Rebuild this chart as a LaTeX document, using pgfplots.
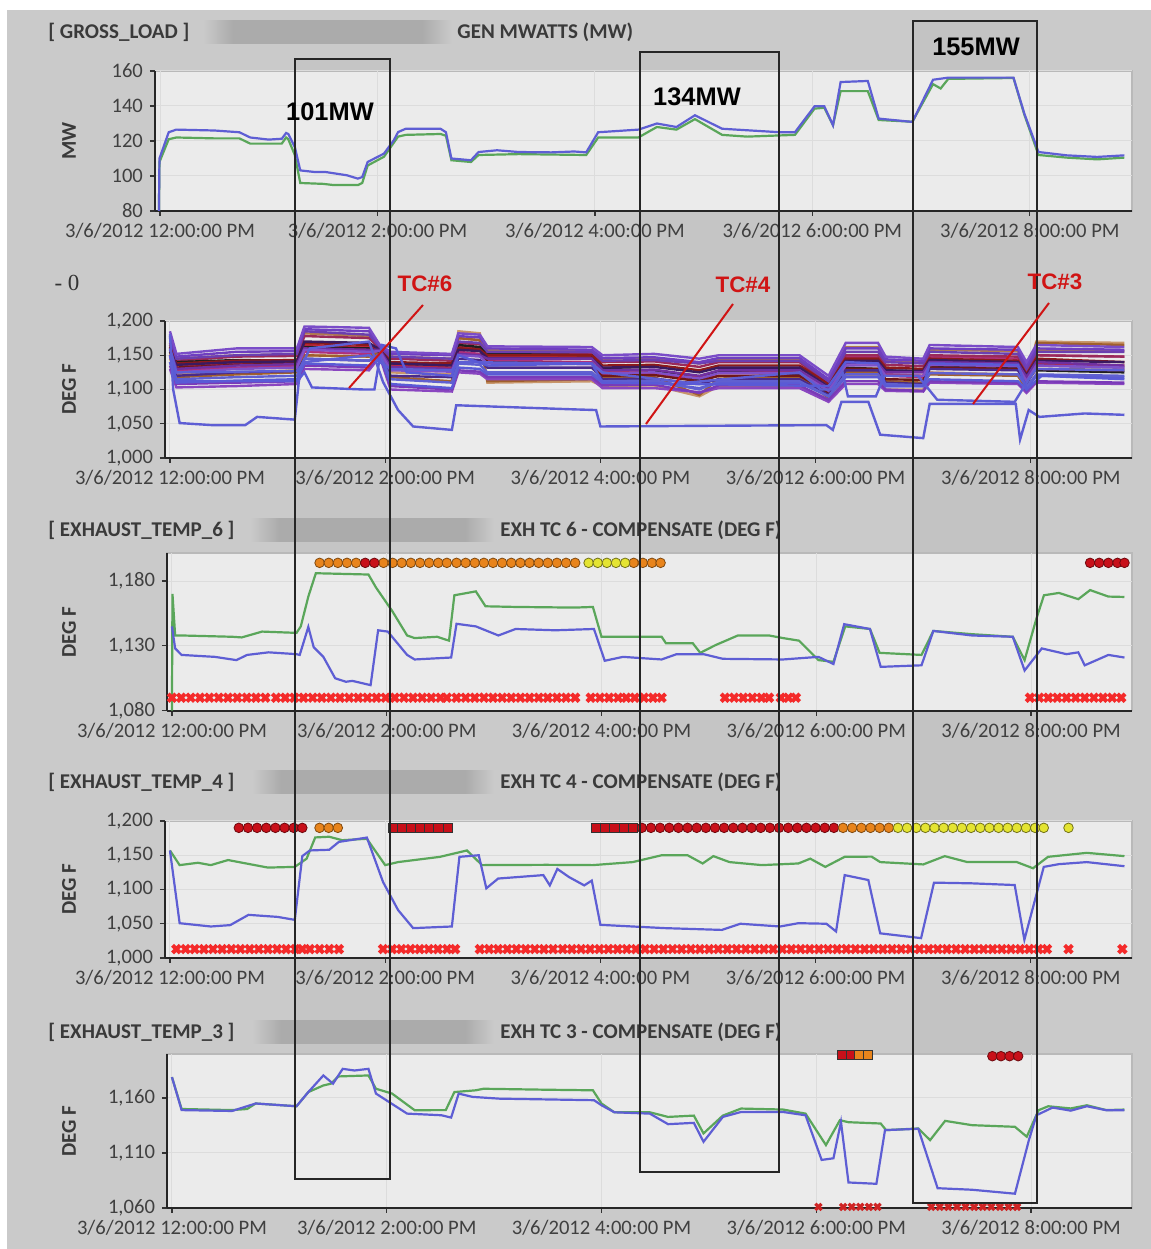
\documentclass[border=0pt]{standalone}
\usepackage{fontspec}
\setmainfont{Carlito}
\newfontfamily\arialf{Liberation Sans}
\newfontfamily\serf{Liberation Serif}
\usepackage{pgfplots}
\usepackage{pgfplotstable}
\pgfplotsset{compat=1.18}

\definecolor{bgray}{HTML}{CACACA}
\definecolor{barc}{HTML}{ABABAB}
\definecolor{pbg}{HTML}{EBEBEB}
\definecolor{gridc}{HTML}{DCDCDC}
\definecolor{lgreen}{HTML}{5AA65A}
\definecolor{lblue}{HTML}{5E5ED4}
\definecolor{ttl}{HTML}{3A3A3A}
\definecolor{mkred}{HTML}{C8101A}
\definecolor{mkorange}{HTML}{E8841C}
\definecolor{mkyellow}{HTML}{E4E432}
\definecolor{xred}{HTML}{F42A2A}
\definecolor{tcred}{HTML}{D01414}
\definecolor{cA}{HTML}{7A4CC8}
\definecolor{cB}{HTML}{6B3FB0}
\definecolor{cC}{HTML}{8B1A1A}
\definecolor{cD}{HTML}{7030A0}
\definecolor{cE}{HTML}{202020}
\definecolor{cF}{HTML}{A0602D}
\definecolor{cG}{HTML}{5A5AD6}
\definecolor{cH}{HTML}{8A46C0}
\definecolor{cI}{HTML}{B0307A}
\definecolor{cJ}{HTML}{C8966A}
\definecolor{cK}{HTML}{4A2A8A}
\definecolor{cL}{HTML}{C0283A}
\definecolor{dA}{HTML}{6F3FC0}
\definecolor{dB}{HTML}{9A2A5A}
\definecolor{dC}{HTML}{3A1A60}
\definecolor{dD}{HTML}{8050C8}
\definecolor{dE}{HTML}{6060D0}
\definecolor{dF}{HTML}{7A3AB8}
\definecolor{dG}{HTML}{701818}
\definecolor{dH}{HTML}{B07A50}

\pgfdeclarehorizontalshading{blurbar}{100bp}{color(0bp)=(bgray); color(25bp)=(bgray); color(31bp)=(barc); color(69bp)=(barc); color(75bp)=(bgray); color(100bp)=(bgray)}

\pgfplotstableread{
t L1 L2 L3 L4 L5 L6 L7 L8 L9 L10 L11 L12
0    1185 1175 1165 1160 1155 1150 1140 1130 1150 1145 1150 1155
0.06 1152 1145 1138 1130 1140 1118 1110 1103 1128 1122 1120 1135
0.62 1160 1150 1142 1135 1143 1122 1113 1105 1132 1125 1125 1138
1.18 1160 1152 1143 1137 1142 1125 1115 1108 1135 1128 1127 1140
1.25 1192 1185 1168 1160 1162 1150 1138 1130 1155 1150 1145 1165
1.85 1190 1180 1165 1158 1160 1148 1135 1128 1152 1148 1142 1162
1.95 1165 1162 1160 1158 1155 1155 1150 1148 1160 1158 1152 1160
2.05 1155 1148 1140 1133 1138 1118 1108 1100 1130 1125 1120 1135
2.62 1152 1145 1138 1130 1136 1112 1102 1097 1128 1122 1118 1132
2.68 1182 1170 1160 1152 1165 1175 1132 1125 1155 1185 1145 1162
2.88 1180 1168 1158 1150 1162 1172 1130 1123 1152 1182 1143 1160
2.95 1163 1155 1150 1145 1152 1112 1122 1115 1142 1110 1132 1148
3.92 1162 1155 1150 1145 1150 1115 1122 1115 1140 1112 1132 1148
4.02 1150 1142 1135 1128 1130 1118 1110 1102 1122 1105 1115 1125
4.5  1152 1143 1136 1129 1128 1118 1110 1102 1122 1106 1116 1126
4.92 1145 1138 1128 1120 1115 1092 1102 1096 1115 1090 1108 1118
5.1  1150 1142 1135 1128 1126 1116 1110 1102 1120 1105 1115 1125
5.85 1150 1142 1135 1128 1122 1118 1110 1102 1120 1105 1115 1125
6.12 1120 1112 1108 1102 1095 1088 1090 1082 1100 1085 1092 1098
6.28 1168 1155 1145 1138 1132 1125 1118 1108 1148 1120 1128 1140
6.58 1168 1155 1145 1138 1130 1125 1118 1108 1148 1120 1128 1140
6.65 1148 1140 1132 1125 1128 1112 1105 1098 1120 1100 1110 1122
7.0  1145 1138 1130 1125 1126 1110 1105 1097 1118 1100 1108 1120
7.06 1165 1155 1145 1140 1135 1122 1115 1110 1148 1125 1130 1138
7.88 1162 1152 1142 1138 1133 1120 1112 1108 1145 1122 1128 1136
7.96 1140 1130 1122 1118 1120 1100 1100 1095 1125 1105 1108 1115
8.05 1165 1155 1145 1140 1128 1168 1120 1110 1150 1170 1135 1138
8.87 1162 1155 1140 1135 1125 1165 1118 1108 1148 1168 1132 1135
}\bandtable

\pgfplotstableread{
t M1 M2 M3 M4 M5 M6 M7 M8
0    1178 1168 1158 1148 1140 1135 1162 1152
0.06 1148 1142 1136 1125 1115 1108 1132 1145
0.62 1155 1148 1140 1130 1118 1110 1136 1150
1.18 1156 1149 1141 1132 1120 1112 1138 1151
1.25 1188 1178 1170 1158 1145 1135 1160 1182
1.85 1185 1175 1168 1155 1142 1132 1158 1178
1.95 1163 1160 1158 1156 1152 1150 1158 1162
2.05 1152 1145 1138 1128 1115 1105 1130 1148
2.62 1150 1142 1135 1126 1110 1100 1128 1145
2.68 1178 1168 1158 1150 1138 1128 1160 1175
2.88 1176 1166 1156 1148 1136 1126 1158 1172
2.95 1160 1153 1146 1138 1125 1118 1140 1158
3.92 1158 1152 1145 1137 1125 1118 1138 1156
4.02 1146 1140 1132 1124 1112 1106 1120 1145
4.5  1147 1141 1133 1125 1113 1107 1121 1146
4.92 1140 1133 1125 1116 1100 1095 1112 1138
5.1  1146 1140 1132 1124 1112 1106 1120 1144
5.85 1146 1140 1132 1124 1112 1106 1120 1144
6.12 1115 1108 1104 1098 1090 1085 1096 1112
6.28 1160 1150 1142 1135 1122 1112 1130 1162
6.58 1160 1150 1142 1135 1122 1112 1130 1162
6.65 1144 1136 1128 1120 1108 1100 1115 1142
7.0  1142 1134 1127 1120 1106 1098 1114 1140
7.06 1160 1150 1143 1136 1124 1112 1132 1158
7.88 1158 1148 1140 1134 1122 1110 1130 1156
7.96 1135 1126 1120 1112 1104 1098 1110 1132
8.05 1160 1150 1142 1135 1122 1112 1130 1158
8.87 1158 1148 1140 1132 1120 1110 1128 1156
}\bandtableb

\pgfplotsset{
 panel/.style={
  scale only axis, clip=false,
  xmin=-0.046, xmax=8.94,
  axis background/.style={fill=pbg, draw=gray!55, line width=0.6pt},
  axis x line*=bottom, axis y line*=left,
  axis line style={-, draw=black!85, line width=0.9pt},
  xtick={0,2,4,6,8},
  xticklabels={3/6/2012 12:00:00 PM,3/6/2012 2:00:00 PM,3/6/2012 4:00:00 PM,3/6/2012 6:00:00 PM,3/6/2012 8:00:00 PM},
  grid=major, grid style={draw=gridc, line width=0.5pt},
  tick align=outside, major tick length=2.5pt,
  tick style={draw=black!80, line width=0.6pt},
  tick label style={font=\fontsize{10.3}{12}\selectfont, color=black!75},
  scaled y ticks=false,
  /pgf/number format/1000 sep={,},
  /pgf/number format/assume math mode=true,
 },
 gl/.style={color=lgreen, line width=1.1pt, mark=none},
 bl/.style={color=lblue, line width=1.1pt, mark=none},
 bd/.style={line width=1.2pt, mark=none},
 mr/.style={only marks, mark=*, mark size=2.4pt, mark options={draw=mkred!55!black, fill=mkred, line width=0.4pt}},
 mo/.style={only marks, mark=*, mark size=2.4pt, mark options={draw=mkorange!55!black, fill=mkorange, line width=0.4pt}},
 my/.style={only marks, mark=*, mark size=2.4pt, mark options={draw=mkyellow!50!black, fill=mkyellow, line width=0.4pt}},
 ms/.style={only marks, mark=square*, mark size=2.3pt, mark options={draw=black!80, fill=mkred, line width=0.4pt}},
 mx/.style={only marks, mark=x, mark size=2.7pt, color=xred, line width=2pt},
}

\begin{document}
\begin{tikzpicture}[x=0.5pt,y=0.5pt]
\path[use as bounding box] (0,0) rectangle (1151,1249);
\fill[white] (0,0) rectangle (1151,1249);
\fill[bgray] (7,0) rectangle (1151,1239);
% box interiors (slightly darker)
\fill[black, opacity=0.025] (295,70) rectangle (390,1190);
\fill[black, opacity=0.025] (640,77) rectangle (779,1197);
\fill[black, opacity=0.03] (913,46) rectangle (1037,1228);

% blurred bars
\shade[shading=blurbar] (203,1205) rectangle (452,1228);
\shade[shading=blurbar] (250,707) rectangle (494,730);
\shade[shading=blurbar] (252,455) rectangle (494,478);
\shade[shading=blurbar] (252,205) rectangle (494,228);

% titles
\begin{scope}[every node/.style={anchor=west, inner sep=0pt, text=ttl, font=\fontsize{10.5}{12}\selectfont\bfseries}]
\node at (48,1217) {[ GROSS\_LOAD ]};
\node at (457,1217) {GEN MWATTS (MW)};
\node at (48,719) {[ EXHAUST\_TEMP\_6 ]};
\node at (500,719) {EXH TC 6 - COMPENSATE (DEG F)};
\node at (48,467) {[ EXHAUST\_TEMP\_4 ]};
\node at (500,467) {EXH TC 4 - COMPENSATE (DEG F)};
\node at (48,217) {[ EXHAUST\_TEMP\_3 ]};
\node at (500,217) {EXH TC 3 - COMPENSATE (DEG F)};
\end{scope}
\begin{scope}[every node/.style={rotate=90, inner sep=0pt, text=ttl, font=\fontsize{10.5}{12}\selectfont\bfseries}]
\node at (69,1108) {MW};
\node at (69,860) {DEG F};
\node at (69,617) {DEG F};
\node at (69,360) {DEG F};
\node at (69,118) {DEG F};
\end{scope}
\node[text=black!80, font=\serf\fontsize{11.5}{13}\selectfont] at (67,966) {- 0};

% ---------- Panel 1 ----------
\begin{axis}[panel, at={(77.5pt,519pt)}, anchor=south west, width=488.5pt, height=70pt,
  ymin=80, ymax=160, ytick={80,100,120,140,160}]
\addplot[gl] coordinates {(-0.01,80) (-0.005,108) (0.08,121) (0.15,122) (0.5,121.5) (0.73,121.5) (0.83,118.5) (1.12,118.5) (1.16,122) (1.18,121) (1.24,112) (1.29,96) (1.5,95.5) (1.6,94.8) (1.82,94.8) (1.86,96) (1.91,106) (2.06,111) (2.15,119) (2.19,122.5) (2.26,123.5) (2.58,124) (2.63,123) (2.68,109) (2.86,108) (2.93,112) (3.3,112.5) (3.92,112) (4.03,122) (4.40,122) (4.57,128) (4.75,126.5) (4.92,132.5) (5.17,123.5) (5.40,122.5) (5.84,123.5) (6.02,138.5) (6.11,139) (6.19,129) (6.26,148.5) (6.51,148.5) (6.61,132) (6.92,131) (7.11,152.5) (7.18,150) (7.25,155.5) (7.85,156) (7.95,135) (8.08,112) (8.34,110.5) (8.62,109.5) (8.87,110.5)};
\addplot[bl] coordinates {(-0.01,80) (-0.005,110) (0.08,125) (0.15,126.5) (0.5,126) (0.73,125) (0.83,122) (1.0,120.8) (1.12,121.3) (1.16,124.6) (1.18,124) (1.24,116.6) (1.29,103.2) (1.42,102.3) (1.52,102.3) (1.72,100.4) (1.82,98.5) (1.86,99.4) (1.91,108) (2.06,112.8) (2.15,120.4) (2.19,125.1) (2.26,127) (2.58,127) (2.63,125) (2.68,110) (2.86,109) (2.93,113.7) (3.1,114.7) (3.3,113.7) (3.6,113.5) (3.81,114) (3.92,113.5) (4.03,125) (4.40,126.5) (4.57,130) (4.75,128) (4.92,134.7) (5.17,127) (5.70,125) (5.84,125) (6.02,139.8) (6.11,139.8) (6.19,129) (6.26,153.7) (6.51,154.3) (6.61,132.8) (6.92,130.9) (7.11,155) (7.25,156.2) (7.85,156.2) (7.95,135.6) (8.08,113.7) (8.34,111.8) (8.62,110.9) (8.87,111.8)};
\end{axis}

% ---------- Panel 2 ----------
\begin{axis}[panel, at={(82.5pt,395.5pt)}, anchor=south west, width=483.5pt, height=68.5pt,
  ymin=1000, ymax=1200, ytick={1000,1050,1100,1150,1200}]
\addplot[bd, cJ] table[x=t, y=L10] {\bandtable};
\addplot[bd, dH] table[x=t, y=M8] {\bandtableb};
\addplot[bd, cF] table[x=t, y=L6] {\bandtable};
\addplot[bd, cL] table[x=t, y=L12] {\bandtable};
\addplot[bd, cI] table[x=t, y=L9] {\bandtable};
\addplot[bd, dB] table[x=t, y=M2] {\bandtableb};
\addplot[bd, cE] table[x=t, y=L5] {\bandtable};
\addplot[bd, dG] table[x=t, y=M7] {\bandtableb};
\addplot[bd, cC] table[x=t, y=L3] {\bandtable};
\addplot[bd, cH] table[x=t, y=L8] {\bandtable};
\addplot[bd, dF] table[x=t, y=M6] {\bandtableb};
\addplot[bd, cK] table[x=t, y=L11] {\bandtable};
\addplot[bd, dC] table[x=t, y=M3] {\bandtableb};
\addplot[bd, cG] table[x=t, y=L7] {\bandtable};
\addplot[bd, dE] table[x=t, y=M5] {\bandtableb};
\addplot[bd, cD] table[x=t, y=L4] {\bandtable};
\addplot[bd, dD] table[x=t, y=M4] {\bandtableb};
\addplot[bd, cB] table[x=t, y=L2] {\bandtable};
\addplot[bd, dA] table[x=t, y=M1] {\bandtableb};
\addplot[bd, cA] table[x=t, y=L1] {\bandtable};
\addplot[bd, lblue] coordinates {(0,1160) (0.06,1125) (1.18,1127) (1.25,1140) (1.85,1150) (2.05,1130) (2.62,1128) (2.68,1140) (3.92,1138) (4.02,1125) (4.8,1110) (5.85,1125) (6.05,1100) (6.15,1100) (6.25,1125) (6.3,1090) (6.56,1090) (6.64,1120) (6.95,1120) (7.13,1085) (7.85,1082) (7.98,1115) (8.05,1130) (8.87,1128)};
\addplot[bd, cG] coordinates {(0,1150) (0.06,1112) (1.18,1112) (1.25,1125) (1.32,1103) (1.8,1100) (1.9,1100) (1.97,1165) (2.1,1160) (2.2,1125) (2.62,1120) (2.68,1150) (2.95,1135) (3.92,1138) (4.02,1110) (6.12,1105) (6.28,1140) (6.58,1138) (6.65,1105) (7.0,1105) (7.06,1138) (7.88,1136) (7.96,1100) (8.1,1120) (8.87,1115)};
\addplot[bd, lblue] coordinates {(0,1181) (0.03,1100) (0.09,1051) (0.39,1048) (0.70,1048) (0.81,1060) (1.16,1056) (1.21,1130) (1.3,1160) (1.85,1170) (1.98,1111) (2.12,1070) (2.26,1046) (2.62,1041) (2.66,1077) (3.2,1074) (3.75,1071) (3.96,1070) (4.0,1046) (5.0,1047) (6.1,1048) (6.16,1041) (6.24,1082) (6.49,1082) (6.6,1034) (7.0,1029) (7.06,1079) (7.86,1079) (7.9,1027) (7.98,1070) (8.08,1060) (8.5,1065) (8.87,1063)};
\end{axis}

% ---------- Panel 3 ----------
\begin{axis}[panel, at={(83.5pt,269.15pt)}, anchor=south west, width=482.5pt, height=78.85pt,
  ymin=1080, ymax=1201.6, ytick={1080,1130,1180}]
\addplot[gl] coordinates {(0,1080) (0.005,1170) (0.03,1138) (0.09,1138) (0.56,1137) (0.65,1136.5) (0.84,1141) (1.16,1140) (1.2,1145) (1.27,1168) (1.34,1186) (1.83,1185) (1.9,1175) (2.05,1157) (2.19,1138) (2.26,1136) (2.47,1137) (2.58,1134) (2.63,1169) (2.83,1172) (2.92,1160.5) (3.2,1160) (3.75,1159.5) (3.92,1160) (4.0,1137) (4.56,1137) (4.6,1132) (4.85,1132) (4.92,1124.6) (5.06,1130.5) (5.27,1138) (5.56,1138) (5.69,1136) (5.84,1134) (6.02,1119) (6.16,1117.7) (6.27,1145) (6.5,1143) (6.59,1124.6) (6.98,1123) (7.09,1141.5) (7.45,1139) (7.83,1137) (7.94,1119) (8.05,1151) (8.12,1169) (8.26,1170.8) (8.44,1166) (8.55,1173) (8.72,1168) (8.87,1167.7)};
\addplot[bl] coordinates {(0,1145) (0.03,1128) (0.09,1123) (0.4,1121.5) (0.6,1119) (0.7,1123) (0.9,1125) (1.16,1123.6) (1.19,1123) (1.27,1144.6) (1.32,1129) (1.41,1121.5) (1.52,1105) (1.62,1102.3) (1.68,1103) (1.85,1099.7) (1.92,1142) (2.01,1141) (2.19,1123) (2.26,1119.5) (2.6,1121) (2.65,1147) (2.83,1145) (3.04,1138) (3.2,1143) (3.57,1142) (3.93,1143) (4.03,1118.5) (4.2,1121.5) (4.56,1119.5) (4.7,1123.6) (4.95,1123.6) (5.13,1120) (5.69,1119.5) (6.02,1121.5) (6.16,1116) (6.26,1146.7) (6.5,1143) (6.6,1113.8) (6.98,1115) (7.09,1141.5) (7.45,1138) (7.83,1137) (7.94,1111) (8.1,1128) (8.33,1123.6) (8.44,1125) (8.5,1115) (8.72,1123) (8.87,1121)};
\addplot[mo] coordinates {(1.375,1194) (1.46,1194) (1.545,1194) (1.63,1194) (1.715,1194) (1.97,1194) (2.055,1194) (2.14,1194) (2.225,1194) (2.31,1194) (2.395,1194) (2.48,1194) (2.56,1194) (2.65,1194) (2.735,1194) (2.82,1194) (2.905,1194) (2.99,1194) (3.075,1194) (3.16,1194) (3.245,1194) (3.33,1194) (3.415,1194) (3.50,1194) (3.585,1194) (3.67,1194) (3.755,1194) (4.30,1194) (4.385,1194) (4.47,1194) (4.55,1194)};
\addplot[mr] coordinates {(1.80,1194) (1.885,1194) (8.55,1194) (8.635,1194) (8.72,1194) (8.805,1194) (8.87,1194)};
\addplot[my] coordinates {(3.88,1194) (3.965,1194) (4.05,1194) (4.135,1194) (4.22,1194)};
\addplot[mx] coordinates {(0.0,1090) (0.087,1090) (0.174,1090) (0.261,1090) (0.348,1090) (0.435,1090) (0.522,1090) (0.609,1090) (0.696,1090) (0.783,1090) (0.87,1090)
 (0.97,1090) (1.055,1090) (1.14,1090) (1.225,1090) (1.31,1090) (1.395,1090) (1.48,1090) (1.565,1090) (1.65,1090) (1.735,1090) (1.82,1090) (1.905,1090) (1.99,1090) (2.075,1090) (2.16,1090) (2.245,1090) (2.33,1090) (2.415,1090) (2.50,1090) (2.56,1090)
 (2.65,1090) (2.735,1090) (2.82,1090) (2.905,1090) (2.99,1090) (3.075,1090) (3.16,1090) (3.245,1090) (3.33,1090) (3.415,1090) (3.50,1090) (3.585,1090) (3.67,1090) (3.755,1090)
 (3.90,1090) (3.985,1090) (4.07,1090) (4.155,1090) (4.23,1090)
 (4.31,1090) (4.395,1090) (4.48,1090) (4.56,1090)
 (5.15,1090) (5.235,1090) (5.32,1090) (5.405,1090) (5.49,1090) (5.56,1090)
 (5.67,1090) (5.74,1090) (5.81,1090)
 (7.99,1090) (8.075,1090) (8.16,1090) (8.245,1090) (8.33,1090) (8.415,1090) (8.50,1090) (8.585,1090) (8.67,1090) (8.755,1090) (8.84,1090)};
\end{axis}

% ---------- Panel 4 ----------
\begin{axis}[panel, at={(82.5pt,145.5pt)}, anchor=south west, width=483.5pt, height=68.5pt,
  ymin=1000, ymax=1200, ytick={1000,1050,1100,1150,1200}]
\addplot[gl] coordinates {(0,1157) (0.09,1135.6) (0.26,1139) (0.38,1135.6) (0.54,1143) (0.91,1132) (1.16,1133) (1.27,1145) (1.35,1176) (1.48,1177) (1.6,1172) (1.83,1174) (2.0,1135.6) (2.12,1140) (2.51,1147.7) (2.76,1157) (2.9,1135.6) (3.5,1136) (3.93,1135.6) (4.3,1140) (4.57,1150) (4.81,1150) (4.95,1138) (5.05,1148.7) (5.2,1140) (5.5,1135.6) (5.84,1138) (5.95,1145) (6.09,1133) (6.27,1147.7) (6.52,1148) (6.6,1140) (7.0,1136.6) (7.2,1148.7) (7.41,1140) (7.87,1140) (8.02,1131) (8.16,1147.7) (8.52,1153.5) (8.87,1148.7)};
\addplot[bl] coordinates {(0,1157) (0.09,1050.8) (0.38,1046) (0.56,1048) (0.73,1063) (1.0,1060) (1.16,1055.7) (1.23,1148.7) (1.3,1157) (1.48,1158) (1.57,1169.5) (1.83,1175.8) (1.98,1111) (2.12,1070) (2.26,1043.6) (2.62,1046) (2.69,1147.7) (2.87,1150) (2.94,1101.7) (3.05,1116) (3.47,1121) (3.53,1106) (3.6,1130) (3.71,1118) (3.85,1106) (3.92,1113) (4.0,1048.4) (4.6,1043.6) (5.13,1041) (5.3,1050) (5.67,1046) (5.84,1050.8) (6.1,1050) (6.19,1038.7) (6.27,1121) (6.49,1113.8) (6.6,1036) (6.98,1029) (7.1,1110) (7.45,1109) (7.85,1106.5) (7.94,1026.6) (8.12,1133) (8.26,1137) (8.52,1140) (8.87,1134)};
\addplot[mr] coordinates {(0.64,1190) (0.725,1190) (0.81,1190) (0.895,1190) (0.98,1190) (1.065,1190) (1.15,1190) (1.23,1190)
 (4.385,1190) (4.47,1190) (4.555,1190) (4.64,1190) (4.725,1190) (4.81,1190) (4.895,1190) (4.98,1190) (5.065,1190) (5.15,1190) (5.235,1190) (5.32,1190) (5.405,1190) (5.49,1190) (5.575,1190) (5.66,1190) (5.745,1190) (5.83,1190) (5.915,1190) (6.00,1190) (6.085,1190) (6.17,1190)};
\addplot[mo] coordinates {(1.39,1190) (1.475,1190) (1.56,1190) (6.255,1190) (6.34,1190) (6.425,1190) (6.51,1190) (6.595,1190) (6.68,1190)};
\addplot[ms] coordinates {(2.07,1190) (2.155,1190) (2.24,1190) (2.325,1190) (2.41,1190) (2.495,1190) (2.58,1190) (3.96,1190) (4.045,1190) (4.13,1190) (4.215,1190) (4.30,1190)};
\addplot[my] coordinates {(6.765,1190) (6.85,1190) (6.935,1190) (7.02,1190) (7.105,1190) (7.19,1190) (7.275,1190) (7.36,1190) (7.445,1190) (7.53,1190) (7.615,1190) (7.70,1190) (7.785,1190) (7.87,1190) (7.955,1190) (8.04,1190) (8.12,1190) (8.35,1190)};
\addplot[mx] coordinates {(0.06,1013) (0.145,1013) (0.23,1013) (0.315,1013) (0.40,1013) (0.485,1013) (0.57,1013) (0.655,1013) (0.74,1013) (0.825,1013) (0.91,1013) (0.995,1013) (1.08,1013) (1.165,1013) (1.23,1013)
 (1.30,1013) (1.39,1013) (1.48,1013) (1.57,1013)
 (1.98,1013) (2.065,1013) (2.15,1013) (2.235,1013) (2.32,1013) (2.405,1013) (2.49,1013) (2.575,1013) (2.65,1013)
 (2.88,1013) (2.965,1013) (3.05,1013) (3.135,1013) (3.22,1013) (3.305,1013) (3.39,1013) (3.475,1013) (3.56,1013)
 (3.65,1013) (3.735,1013) (3.82,1013) (3.905,1013) (3.99,1013) (4.075,1013) (4.16,1013) (4.245,1013) (4.33,1013) (4.415,1013) (4.50,1013) (4.585,1013) (4.67,1013) (4.755,1013) (4.84,1013) (4.925,1013) (5.01,1013) (5.095,1013) (5.18,1013) (5.265,1013) (5.35,1013) (5.435,1013) (5.52,1013) (5.605,1013) (5.69,1013) (5.775,1013) (5.86,1013) (5.945,1013) (6.03,1013) (6.115,1013) (6.20,1013) (6.285,1013) (6.37,1013) (6.455,1013) (6.54,1013) (6.625,1013) (6.71,1013) (6.795,1013) (6.88,1013) (6.965,1013) (7.05,1013) (7.135,1013) (7.22,1013) (7.305,1013) (7.39,1013) (7.475,1013) (7.56,1013) (7.645,1013) (7.73,1013) (7.815,1013) (7.90,1013) (7.985,1013) (8.07,1013) (8.15,1013)
 (8.35,1013) (8.85,1013)};
\end{axis}

% ---------- Panel 5 ----------
\begin{axis}[panel, at={(83.5pt,20.5pt)}, anchor=south west, width=482.5pt, height=77pt,
  ymin=1060, ymax=1200, ytick={1060,1110,1160}]
\addplot[gl] coordinates {(0,1179) (0.09,1150) (0.56,1149) (0.7,1150) (0.78,1155) (1.16,1152.5) (1.27,1165.4) (1.41,1171.4) (1.48,1173) (1.55,1179.6) (1.83,1180.5) (1.9,1168.4) (2.05,1164) (2.26,1148.9) (2.55,1149) (2.63,1165.4) (2.83,1167) (2.9,1168.4) (3.5,1167.5) (3.92,1167) (4.0,1155) (4.12,1147) (4.45,1147) (4.62,1142.8) (4.86,1144) (4.95,1127.8) (5.13,1144) (5.3,1150.4) (5.69,1149.5) (5.9,1145.8) (6.09,1117.2) (6.22,1139.8) (6.3,1138) (6.6,1136.8) (6.65,1130.8) (6.95,1132.3) (7.06,1121.7) (7.2,1139.2) (7.45,1135.3) (7.85,1133.8) (7.96,1124.8) (8.07,1148.9) (8.16,1152.5) (8.37,1150.5) (8.52,1153.4) (8.7,1149) (8.87,1149.5)};
\addplot[bl] coordinates {(0,1179) (0.09,1149) (0.56,1148.2) (0.78,1155) (1.16,1152.5) (1.27,1165.4) (1.41,1180.5) (1.5,1173) (1.59,1186.5) (1.7,1185) (1.83,1186.5) (1.9,1164) (2.19,1145.8) (2.51,1144.3) (2.6,1142.2) (2.67,1164) (2.8,1161) (3.05,1159.4) (3.93,1158) (4.0,1153.4) (4.12,1147) (4.45,1145.8) (4.62,1136.2) (4.86,1137.4) (4.95,1120.2) (5.13,1142.8) (5.3,1147.3) (5.69,1147.3) (5.9,1144.3) (6.05,1103.7) (6.16,1105.2) (6.23,1138.3) (6.3,1083.2) (6.56,1082) (6.64,1130.8) (6.95,1132) (7.13,1078) (7.45,1076.6) (7.85,1073) (7.98,1121.7) (8.05,1144.3) (8.2,1151.3) (8.37,1148.5) (8.52,1152.5) (8.7,1148.9) (8.87,1148.9)};
\addplot[ms] coordinates {(6.24,1199) (6.32,1199)};
\addplot[only marks, mark=square*, mark size=2.3pt, mark options={draw=black!80, fill=mkorange, line width=0.4pt}] coordinates {(6.40,1199) (6.48,1199)};
\addplot[mr] coordinates {(7.64,1198) (7.72,1198) (7.80,1198) (7.88,1198)};
\addplot[only marks, mark=x, mark size=2.2pt, color=xred!85!black, line width=1.6pt] coordinates {(6.02,1061) (6.25,1061) (6.33,1061) (6.41,1061) (6.49,1061) (6.57,1061) (7.07,1061) (7.15,1061) (7.23,1061) (7.31,1061) (7.39,1061) (7.47,1061) (7.55,1061) (7.63,1061) (7.71,1061) (7.79,1061) (7.87,1061)};
\end{axis}

% box outlines
\draw[black!85, line width=0.8pt] (295,70) rectangle (390,1190);
\draw[black!85, line width=0.8pt] (640,77) rectangle (779,1197);
\draw[black!85, line width=0.8pt] (913,46) rectangle (1037,1228);

% MW labels
\begin{scope}[every node/.style={inner sep=0pt, font=\arialf\bfseries\fontsize{12.7}{14}\selectfont, text=black}]
\node at (330,1137) {101MW};
\node at (697,1152) {134MW};
\node at (976,1202) {155MW};
\end{scope}

% TC pointers
\begin{scope}[every node/.style={inner sep=0pt, font=\arialf\bfseries\fontsize{11.2}{13}\selectfont, text=tcred}]
\node at (425,965) {TC\#6};
\node at (743,964) {TC\#4};
\node at (1055,967) {TC\#3};
\end{scope}
\draw[tcred, line width=1pt] (423,944) -- (349,861);
\draw[tcred, line width=1pt] (733,945) -- (646,825);
\draw[tcred, line width=1pt] (1049,946) -- (973,845);
\end{tikzpicture}
\end{document}
